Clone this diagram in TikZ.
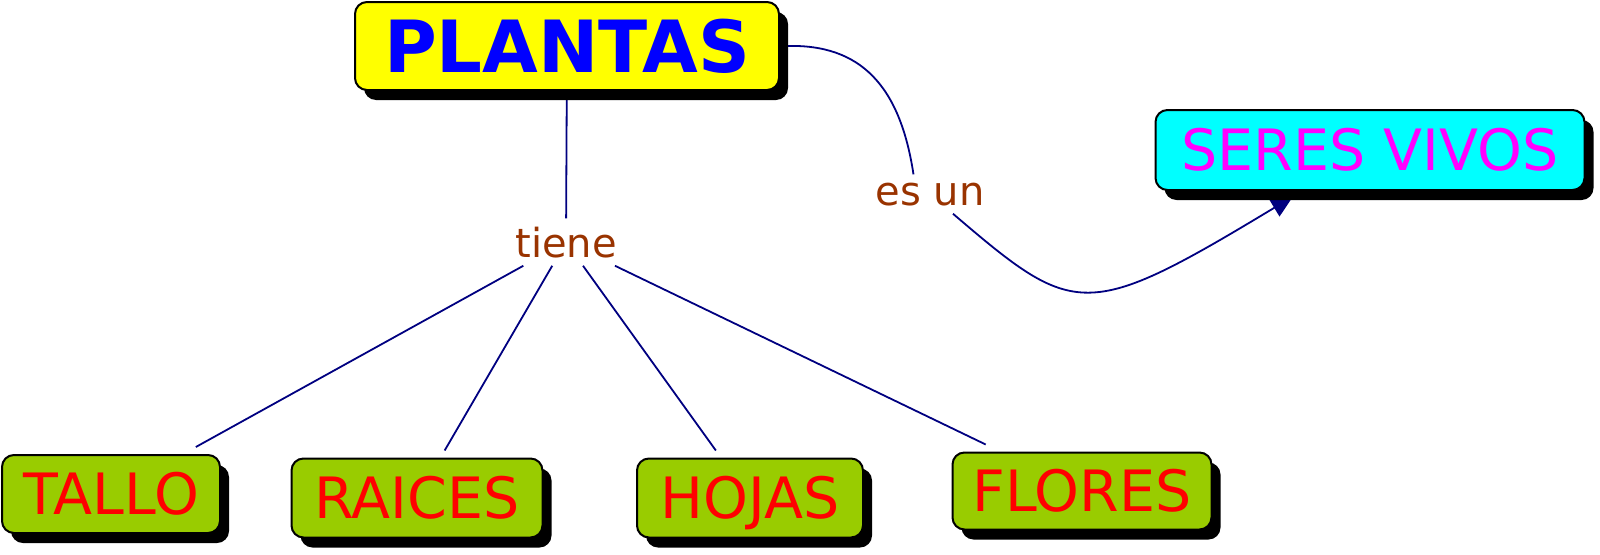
\documentclass[tikz,border=0pt]{standalone}
\usepackage{fontspec}
\setmainfont{DejaVu Sans}
\usepackage{tikz}
\usetikzlibrary{arrows.meta, shadows, backgrounds}
\definecolor{rootcolor}{RGB}{255,255,0}
\definecolor{roottext}{RGB}{0,0,255}
\definecolor{classcolor}{RGB}{0,255,255}
\definecolor{classtext}{RGB}{255,0,255}
\definecolor{partcolor}{RGB}{153,204,0}
\definecolor{parttext}{RGB}{255,0,0}
\definecolor{wordcolor}{RGB}{153,51,0}
\definecolor{linecolor}{RGB}{0,0,128}

\begin{document}
\begin{tikzpicture}[x=1pt, y=-1pt,
    concept/.style={rectangle, rounded corners=12pt, draw, line width=2pt, inner sep=0pt, outer sep=8pt,
        text height=41pt, text depth=0pt, font=\fontsize{57}{60}\selectfont,
        drop shadow={shadow xshift=9pt, shadow yshift=-10pt, fill=black, opacity=1}},
    part/.style={concept, fill=partcolor, text=parttext},
    linkword/.style={anchor=base, inner sep=8pt, text=wordcolor, font=\fontsize{40}{44}\selectfont},
    link/.style={draw=linecolor, line width=1.8pt},
    arrow/.style={link, -{Triangle[length=22pt, width=20pt]}}
]
\useasboundingbox (0,0) rectangle (1600,554);

\node[concept, fill=rootcolor, text=roottext, font=\fontsize{72}{76}\selectfont\bfseries, text height=52pt,
    minimum width=424pt, minimum height=88pt] (plantas) at (567,46) {PLANTAS};
\node[concept, fill=classcolor, text=classtext, minimum width=429pt, minimum height=80pt] (seres) at (1370,150) {SERES VIVOS};
\node[part, minimum width=218pt, minimum height=78pt] (tallo) at (111,494) {TALLO};
\node[part, minimum width=251pt, minimum height=79pt] (raices) at (417,498) {RAICES};
\node[part, minimum width=226pt, minimum height=79pt] (hojas) at (750,498) {HOJAS};
\node[part, minimum width=259pt, minimum height=77pt] (flores) at (1082,491) {FLORES};

\node[linkword] (tiene) at (566,257) {tiene};
\node[linkword] (esun) at (930,205) {es un};

\begin{scope}[on background layer]
\draw[link] (plantas) -- (tiene);
\foreach \part in {tallo, raices, hojas, flores}
    \draw[link] (tiene) -- (\part);
\draw[link] (plantas.east) .. controls (860,44) and (900,85) .. (esun.130);
\draw[arrow, shorten >=-3pt] (esun) .. controls (1075,318) and (1085,322) .. (seres);
\end{scope}
\end{tikzpicture}
\end{document}
